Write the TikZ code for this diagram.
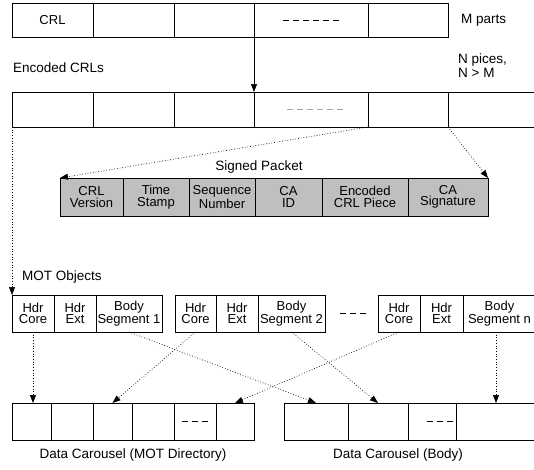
\documentclass[tikz,border=0pt]{standalone}
\usepackage{fontspec}
\setmainfont{Liberation Sans}
\usetikzlibrary{arrows.meta, positioning, calc}

\begin{document}
\begin{tikzpicture}[
        x=1pt, y=1pt,
        cell/.style={rectangle, draw=black, line width=0.7pt, inner sep=0pt, outer sep=0pt, minimum height=35pt, align=center, font=\fontsize{13}{11.5}\selectfont},
        pkt/.style={cell, fill=gray!50, line width=0.9pt, minimum height=38pt},
        lbl/.style={inner sep=1pt, font=\fontsize{13.5}{14}\selectfont},
        solidarrow/.style={-{Triangle[length=8pt, width=6pt]}, line width=0.7pt},
        dotarrow/.style={-{Triangle[length=8pt, width=6pt]}, dotted, line width=0.7pt},
        elide/.style={dash pattern=on 6pt off 4pt, line width=0.7pt},
    ]
        \path[use as bounding box, clip] (0,0) rectangle (534,-469);

        % CRL in M parts
        \node[cell, minimum width=81pt, minimum height=34pt, anchor=north west] (crl1) at (12,-3) {CRL};
        \node[cell, minimum width=81pt, minimum height=34pt, right=0pt of crl1] (crl2) {};
        \node[cell, minimum width=80pt, minimum height=34pt, right=0pt of crl2] (crl3) {};
        \node[cell, minimum width=114pt, minimum height=34pt, right=0pt of crl3] (crl4) {};
        \node[cell, minimum width=80pt, minimum height=34pt, right=0pt of crl4] (crl5) {};
        \draw[elide] ($(crl4.center)+(-28,0)$) -- ++(58,0);
        \node[lbl, right=12pt of crl5] {M parts};

        % Encoded CRLs, N pieces
        \node[cell, minimum width=81pt, below right=55pt and 0pt of crl1.south west] (enc1) {};
        \node[cell, minimum width=81pt, right=0pt of enc1] (enc2) {};
        \node[cell, minimum width=80pt, right=0pt of enc2] (enc3) {};
        \node[cell, minimum width=114pt, right=0pt of enc3] (enc4) {};
        \node[cell, minimum width=80pt, right=0pt of enc4] (enc5) {};
        \node[cell, minimum width=100pt, right=0pt of enc5] (enc6) {};
        \draw[elide, draw=gray!70] ($(enc4.center)+(-24,0)$) -- ++(56,0);
        \node[lbl, above right=18pt and 0pt of enc1.north west] {Encoded CRLs};
        \node[lbl, align=left, above right=13pt and 9pt of enc6.north west] {N pices,\\N > M};

        % Signed packet
        \node[pkt, minimum width=63pt, below right=51pt and 48pt of enc1.south west] (sp1) {CRL\\Version};
        \node[pkt, minimum width=66pt, right=0pt of sp1] (sp2) {Time\\Stamp};
        \node[pkt, minimum width=66pt, right=0pt of sp2] (sp3) {Sequence\\Number};
        \node[pkt, minimum width=67pt, right=0pt of sp3] (sp4) {CA\\ID};
        \node[pkt, minimum width=86pt, right=0pt of sp4] (sp5) {Encoded\\CRL Piece};
        \node[pkt, minimum width=80pt, right=0pt of sp5] (sp6) {CA\\Signature};
        \node[lbl, above=4pt of sp4.north west, xshift=4pt] {Signed Packet};

        % MOT objects
        \node[cell, minimum width=42pt, minimum height=37pt, below right=168pt and 0pt of enc1.south west] (hc1) {Hdr\\Core};
        \node[cell, minimum width=42pt, minimum height=37pt, right=0pt of hc1] (he1) {Hdr\\Ext};
        \node[cell, minimum width=66pt, minimum height=37pt, right=0pt of he1] (bs1) {Body\\Segment 1};
        \node[cell, minimum width=41pt, minimum height=37pt, right=13pt of bs1] (hc2) {Hdr\\Core};
        \node[cell, minimum width=42pt, minimum height=37pt, right=0pt of hc2] (he2) {Hdr\\Ext};
        \node[cell, minimum width=67pt, minimum height=37pt, right=0pt of he2] (bs2) {Body\\Segment 2};
        \node[cell, minimum width=42pt, minimum height=37pt, right=53pt of bs2] (hcn) {Hdr\\Core};
        \node[cell, minimum width=43pt, minimum height=37pt, right=0pt of hcn] (hen) {Hdr\\Ext};
        \node[cell, minimum width=73pt, minimum height=37pt, right=0pt of hen] (bsn) {Body\\Segment n};
        \draw[elide] ($(bs2.east)+(15,0)$) -- ($(hcn.west)+(-11,0)$);
        \node[lbl, above right=11pt and 9pt of hc1.north west] {MOT Objects};

        % Data carousels
        \node[cell, minimum width=39pt, minimum height=37pt, below right=71pt and 0pt of hc1.south west] (dir1) {};
        \node[cell, minimum width=42pt, minimum height=37pt, right=0pt of dir1] (dir2) {};
        \node[cell, minimum width=39pt, minimum height=37pt, right=0pt of dir2] (dir3) {};
        \node[cell, minimum width=42pt, minimum height=37pt, right=0pt of dir3] (dir4) {};
        \node[cell, minimum width=42pt, minimum height=37pt, right=0pt of dir4] (dir5) {};
        \node[cell, minimum width=38pt, minimum height=37pt, right=0pt of dir5] (dir6) {};
        \draw[elide] ($(dir5.center)+(-13,0)$) -- ++(26,0);
        \node[cell, minimum width=64pt, minimum height=37pt, right=30pt of dir6] (bod1) {};
        \node[cell, minimum width=60pt, minimum height=37pt, right=0pt of bod1] (bod2) {};
        \node[cell, minimum width=48pt, minimum height=37pt, right=0pt of bod2] (bod3) {};
        \node[cell, minimum width=80pt, minimum height=37pt, right=0pt of bod3] (bod4) {};
        \draw[elide] ($(bod3.center)+(-5,0)$) -- ++(26,0);
        \node[lbl, below=8pt of $(dir1.south west)!0.5!(dir6.south east)$] {Data Carousel (MOT Directory)};
        \node[lbl, below=8pt of bod2.south east, xshift=-10pt] {Data Carousel (Body)};

        % Arrows
        \draw[solidarrow] (crl4.south west) -- (enc4.north west);
        \draw[dotarrow] (enc1.south west) -- (hc1.north west);
        \draw[dotarrow] (enc5.south west) -- (sp1.north west);
        \draw[dotarrow] (enc6.south west) -- (sp6.north east);
        \draw[dotarrow] (hc1.south) -- (hc1.south |- dir1.north);
        \draw[dotarrow] (hc2.south) -- (dir3.north);
        \draw[dotarrow] (bs1.south) -- (bod1.north);
        \draw[dotarrow] (bs2.south) -- (bod2.north);
        \draw[dotarrow] (hcn.south) -- (dir6.north);
        \draw[dotarrow] (bod4.north |- bsn.south) -- (bod4.north);
    \end{tikzpicture}
\end{document}
